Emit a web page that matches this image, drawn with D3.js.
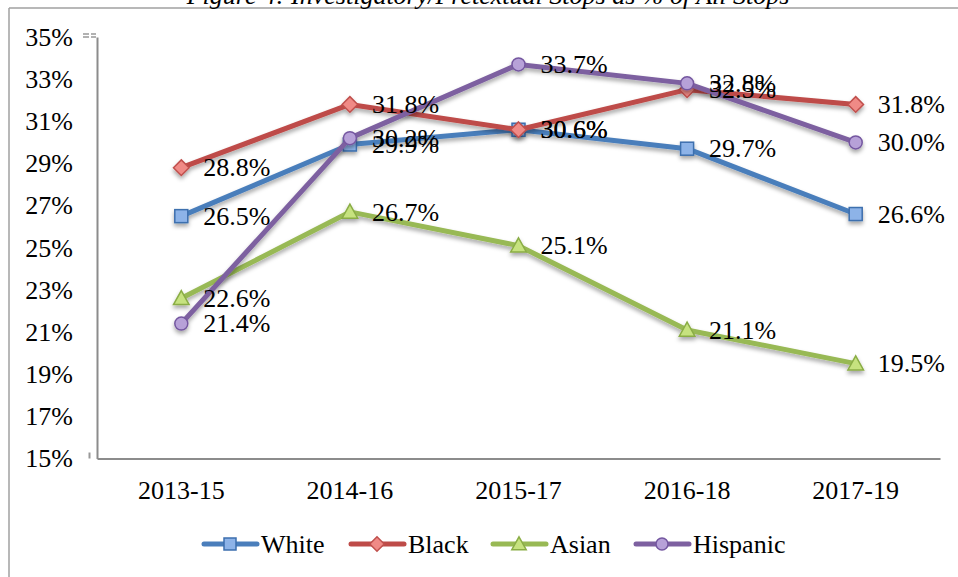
<!DOCTYPE html>
<html>
<head>
<meta charset="utf-8">
<script src="https://cdn.jsdelivr.net/npm/d3@7"></script>
<style>
  html, body { margin: 0; padding: 0; background: #fff; }
  svg { display: block; }
  text { font-family: "Liberation Serif", "Times New Roman", serif; fill: #000; }
</style>
</head>
<body>
<svg id="chart" width="958" height="577"></svg>
<script>
// Chart data
const title = "Figure 4: Investigatory/Pretextual Stops as % of All Stops";
const periods = ["2013-15", "2014-16", "2015-17", "2016-18", "2017-19"];
const yTicks = [15, 17, 19, 21, 23, 25, 27, 29, 31, 33, 35];
const white = [26.5, 29.9, 30.6, 29.7, 26.6];
const black = [28.8, 31.8, 30.6, 32.5, 31.8];
const asian = [22.6, 26.7, 25.1, 21.1, 19.5];
const hispanic = [21.4, 30.2, 33.7, 32.8, 30.0];

const seriesList = [
  { name: "White", values: white, color: "#4a7ebb", fill: "#8db3e8", stroke: "#3d6fae", shape: "square" },
  { name: "Black", values: black, color: "#be4b48", fill: "#f08a86", stroke: "#c0504d", shape: "diamond" },
  { name: "Asian", values: asian, color: "#98b954", fill: "#c6e27f", stroke: "#8aad45", shape: "triangle" },
  { name: "Hispanic", values: hispanic, color: "#7d60a0", fill: "#b7a1d8", stroke: "#7457a0", shape: "circle" }
];

const FS = 26;
const svg = d3.select("#chart");
const margin = { left: 97, right: 18, top: 37, bottom: 119 };
const W = 958, H = 577;

// Soft shadow under lines and markers
const defs = svg.append("defs");
const f = defs.append("filter").attr("id", "shadow")
  .attr("x", "-20%").attr("y", "-20%").attr("width", "140%").attr("height", "160%");
f.append("feDropShadow").attr("dx", 0).attr("dy", 3).attr("stdDeviation", 2)
  .attr("flood-color", "#000").attr("flood-opacity", 0.35);

// Outer frame
svg.append("line").attr("x1", 9).attr("x2", 9).attr("y1", 8).attr("y2", H)
  .attr("stroke", "#a0a0a0").attr("stroke-width", 1.5);
svg.append("line").attr("x1", 9).attr("x2", W).attr("y1", 8).attr("y2", 8)
  .attr("stroke", "#a0a0a0").attr("stroke-width", 1.5);

// Title (sits above the frame)
svg.append("text").attr("x", 488).attr("y", 4).attr("text-anchor", "middle")
  .attr("font-size", FS).attr("font-style", "italic").text(title);

const x = d3.scaleBand().domain(periods).range([margin.left, W - margin.right]);
const y = d3.scaleLinear().domain([15, 35]).range([H - margin.bottom + 0.5, margin.top]);

// Axes
const yAxis = d3.axisLeft(y).tickValues(yTicks).tickSize(0).tickPadding(24)
  .tickFormat(d => d + "%");
const gy = svg.append("g").attr("transform", `translate(${margin.left},0)`).call(yAxis);
gy.select(".domain").attr("stroke", "#8c8c8c").attr("stroke-width", 2);
gy.selectAll("text").attr("font-size", FS).attr("font-family", "Liberation Serif, serif");

const xAxis = d3.axisBottom(x).tickSize(0).tickPadding(22);
const gx = svg.append("g").attr("transform", `translate(0,${y(15)})`).call(xAxis);
gx.select(".domain").attr("stroke", "#8c8c8c").attr("stroke-width", 2);
gx.selectAll("text").attr("font-size", FS).attr("font-family", "Liberation Serif, serif");

// Small stray marks next to the axis ends
svg.append("line").attr("x1", 83).attr("x2", 96).attr("y1", y(35) - 3).attr("y2", y(35) - 3)
  .attr("stroke", "#999").attr("stroke-width", 1.5).attr("stroke-dasharray", "6,2");
svg.append("line").attr("x1", 83).attr("x2", 96).attr("y1", y(35)).attr("y2", y(35))
  .attr("stroke", "#999").attr("stroke-width", 1.5).attr("stroke-dasharray", "6,2");
svg.append("line").attr("x1", 89.5).attr("x2", 89.5).attr("y1", y(15) - 6).attr("y2", y(15))
  .attr("stroke", "#999").attr("stroke-width", 2);

const cx = d => x(d) + x.bandwidth() / 2;

function drawMarker(g, shape, px, py, s, fill, stroke) {
  if (shape === "square") {
    g.append("rect").attr("x", px - s / 2).attr("y", py - s / 2).attr("width", s).attr("height", s)
      .attr("fill", fill).attr("stroke", stroke).attr("stroke-width", 1.5);
  } else if (shape === "diamond") {
    const r = s * 0.6;
    g.append("path").attr("d", `M${px},${py - r}L${px + r},${py}L${px},${py + r}L${px - r},${py}Z`)
      .attr("fill", fill).attr("stroke", stroke).attr("stroke-width", 1.5);
  } else if (shape === "triangle") {
    const r = s * 0.6;
    g.append("path").attr("d", `M${px},${py - r}L${px + r},${py + r * 0.8}L${px - r},${py + r * 0.8}Z`)
      .attr("fill", fill).attr("stroke", stroke).attr("stroke-width", 1.5);
  } else {
    g.append("circle").attr("cx", px).attr("cy", py).attr("r", s / 2)
      .attr("fill", fill).attr("stroke", stroke).attr("stroke-width", 1.5);
  }
}

const line = d3.line().x((d, i) => cx(periods[i])).y(d => y(d));

const plot = svg.append("g");
seriesList.forEach(s => {
  const g = plot.append("g").attr("filter", "url(#shadow)");
  g.append("path").datum(s.values).attr("d", line)
    .attr("fill", "none").attr("stroke", s.color).attr("stroke-width", 5)
    .attr("stroke-linejoin", "round");
  s.values.forEach((v, i) => drawMarker(g, s.shape, cx(periods[i]), y(v), 13, s.fill, s.stroke));
});

// Value labels
seriesList.forEach(s => {
  plot.append("g").selectAll("text").data(s.values).join("text")
    .attr("x", (d, i) => cx(periods[i]) + 22)
    .attr("y", d => y(d))
    .attr("dy", "0.33em")
    .attr("font-size", FS)
    .text(d => d.toFixed(1) + "%");
});

// Legend
const legendX = [202, 349, 491, 634];
const lg = svg.append("g");
seriesList.forEach((s, i) => {
  const lx = legendX[i], ly = 544;
  const g = lg.append("g");
  g.append("line").attr("x1", lx + 2).attr("x2", lx + 55).attr("y1", ly).attr("y2", ly)
    .attr("stroke", s.color).attr("stroke-width", 5).attr("stroke-linecap", "round");
  drawMarker(g, s.shape, lx + 28, ly, 12, s.fill, s.stroke);
  lg.append("text").attr("x", lx + 59).attr("y", ly).attr("dy", "0.33em")
    .attr("font-size", FS).text(s.name);
});
</script>
</body>
</html>
